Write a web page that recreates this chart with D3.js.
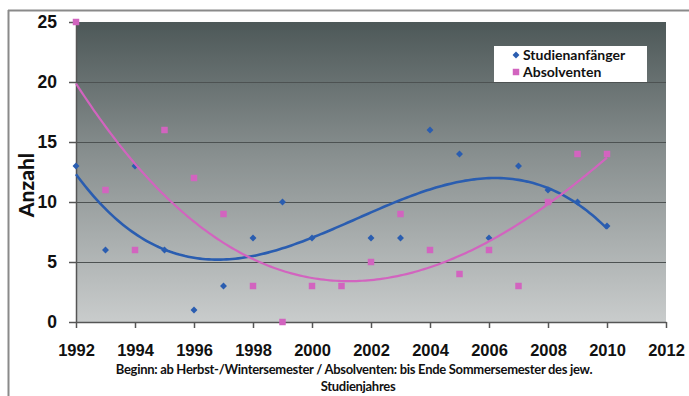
<!DOCTYPE html>
<html><head><meta charset="utf-8">
<script src="https://cdn.jsdelivr.net/npm/d3@7"></script>
<style>
html,body{margin:0;padding:0;background:#fff;}
svg{display:block;font-family:Lato,"Open Sans",sans-serif;}
</style></head>
<body>
<svg id="c" width="689" height="396"></svg>
<script>
// ---- data ----
const years = [1992,1993,1994,1995,1996,1997,1998,1999,2000,2001,2002,2003,2004,2005,2006,2007,2008,2009,2010];
const studienanfaenger = [13,6,13,6,1,3,7,10,7,null,7,7,16,14,7,13,11,10,8];
const absolventen = [25,11,6,16,12,9,3,0,3,3,5,9,6,4,6,3,10,14,14];
const xTicks = [1992,1994,1996,1998,2000,2002,2004,2006,2008,2010,2012];
const yTicks = [0,5,10,15,20,25];
const seriesNames = ["Studienanfänger","Absolventen"];
const yTitle = "Anzahl";
const xTitle1 = "Beginn: ab Herbst-/Wintersemester / Absolventen: bis Ende Sommersemester des jew.";
const xTitle2 = "Studienjahres";

const blue = "#2a5db0", pink = "#d264bf";
const svg = d3.select("#c");
const x = d3.scaleLinear().domain([1992,2012]).range([76,666]);
const y = d3.scaleLinear().domain([0,25]).range([322,22]);

// frame
svg.append("line").attr("x1",8).attr("x2",689).attr("y1",10.5).attr("y2",10.5).attr("stroke","#8a8a8a").attr("stroke-width",2);
svg.append("line").attr("x1",8.5).attr("x2",8.5).attr("y1",10).attr("y2",396).attr("stroke","#8a8a8a").attr("stroke-width",2);

// gradient plot area
const defs = svg.append("defs");
const g = defs.append("linearGradient").attr("id","bg").attr("x1",0).attr("y1",0).attr("x2",0).attr("y2",1);
g.append("stop").attr("offset","0%").attr("stop-color","#4d5858");
g.append("stop").attr("offset","45%").attr("stop-color","#899090");
g.append("stop").attr("offset","100%").attr("stop-color","#c9cccc");
svg.append("rect").attr("x",x(1992)).attr("y",y(25)).attr("width",x(2012)-x(1992)).attr("height",y(0)-y(25)).attr("fill","url(#bg)");

// gridlines
svg.append("g").selectAll("line").data(yTicks.filter(d=>d>0&&d<25)).join("line")
  .attr("x1",x(1992)).attr("x2",x(2012)).attr("y1",d=>y(d)+0.5).attr("y2",d=>y(d)+0.5)
  .attr("stroke","#4d5252").attr("stroke-width",1.2);

// axes
const ya = svg.append("g").attr("transform",`translate(${x(1992)},0)`)
  .call(d3.axisLeft(y).tickValues(yTicks).tickSize(7).tickSizeOuter(0).tickPadding(12));
const xa = svg.append("g").attr("transform",`translate(0,${y(0)})`)
  .call(d3.axisBottom(x).tickValues(xTicks).tickFormat(d3.format("d")).tickSize(6).tickSizeOuter(0));
[ya,xa].forEach(a=>{
  a.select(".domain").attr("stroke","#555").attr("stroke-width",1.5);
  a.selectAll(".tick line").attr("stroke","#555").attr("stroke-width",1.5);
  a.selectAll("text").attr("fill","#111").attr("font-weight","900").attr("font-size",17.5);
});
xa.selectAll("text").attr("y",34).attr("dy",0).attr("font-size",16.5);

// axis titles
svg.append("text").attr("transform","translate(34,185) rotate(-90)").attr("text-anchor","middle")
  .attr("font-weight","900").attr("font-size",21).attr("fill","#111").text(yTitle);
svg.append("text").attr("x",354).attr("y",374).attr("text-anchor","middle")
  .attr("font-weight","bold").attr("font-size",13).attr("fill","#111").attr("letter-spacing",-0.3).text(xTitle1);
svg.append("text").attr("x",358).attr("y",391).attr("text-anchor","middle")
  .attr("font-weight","bold").attr("font-size",13).attr("fill","#111").attr("letter-spacing",-0.3).text(xTitle2);

// cubic least squares trend
function cubicFit(xs, ys){
  const n=4; const A=[...Array(n)].map(()=>Array(n+1).fill(0));
  xs.forEach((xv,i)=>{
    if(ys[i]==null) return;
    const p=[1,xv,xv*xv,xv*xv*xv];
    for(let r=0;r<n;r++){for(let c=0;c<n;c++)A[r][c]+=p[r]*p[c];A[r][n]+=p[r]*ys[i];}
  });
  for(let i=0;i<n;i++){
    let m=i;for(let k=i+1;k<n;k++)if(Math.abs(A[k][i])>Math.abs(A[m][i]))m=k;
    [A[i],A[m]]=[A[m],A[i]];
    for(let k=0;k<n;k++){if(k===i)continue;const f=A[k][i]/A[i][i];for(let c=i;c<=n;c++)A[k][c]-=f*A[i][c];}
  }
  const co=A.map((r,i)=>r[n]/r[i]);
  return t=>co[0]+co[1]*t+co[2]*t*t+co[3]*t*t*t;
}
function trend(vals,color,w){
  const xs=years.map(v=>v-1992);
  const f=cubicFit(xs,vals);
  const pts=d3.range(0,18.01,0.1).map(t=>[1992+t,f(t)]);
  svg.append("path").datum(pts).attr("fill","none").attr("stroke",color).attr("stroke-width",w)
    .attr("d",d3.line().x(d=>x(d[0])).y(d=>y(d[1])));
}

// markers
const sq = d3.symbol().type(d3.symbolSquare).size(42);
const dm = d3.symbol().type(d3.symbolSquare).size(24);
svg.append("g").selectAll("path").data(absolventen.map((v,i)=>[years[i],v])).join("path")
  .attr("d",sq).attr("transform",d=>`translate(${x(d[0])},${y(d[1])})`).attr("fill",pink);
svg.append("g").selectAll("path").data(studienanfaenger.map((v,i)=>[years[i],v]).filter(d=>d[1]!=null)).join("path")
  .attr("d",dm).attr("transform",d=>`translate(${x(d[0])},${y(d[1])}) rotate(45)`).attr("fill",blue);
trend(studienanfaenger,blue,2.6);
trend(absolventen,pink,2.2);

// legend
const lg = svg.append("g");
lg.append("rect").attr("x",494).attr("y",46).attr("width",153).attr("height",36).attr("fill","#fff");
lg.append("path").attr("d",dm).attr("transform","translate(516,55) rotate(45)").attr("fill",blue);
lg.append("path").attr("d",sq).attr("transform","translate(516,72)").attr("fill",pink);
lg.append("text").attr("x",523).attr("y",60).attr("font-size",14).attr("font-weight","bold").attr("fill","#111").text(seriesNames[0]);
lg.append("text").attr("x",523).attr("y",77).attr("font-size",14).attr("font-weight","bold").attr("fill","#111").text(seriesNames[1]);
</script>
</body></html>
